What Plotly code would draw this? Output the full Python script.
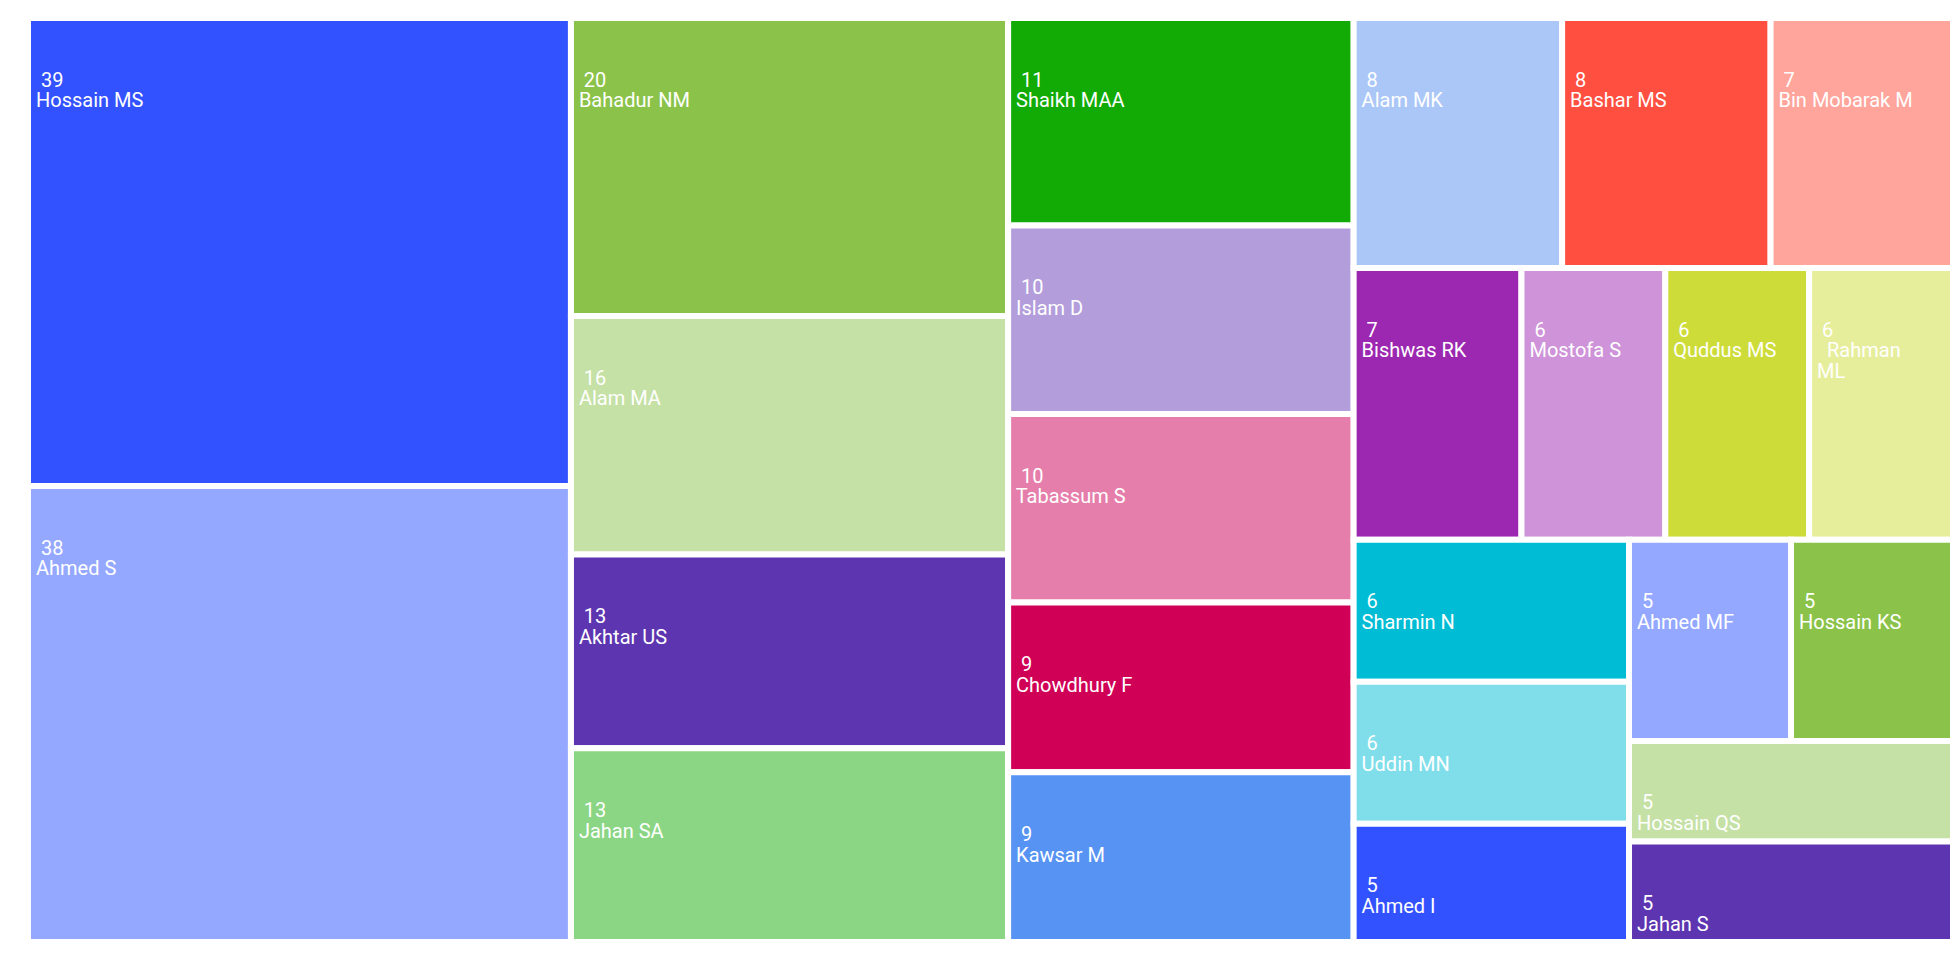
import plotly.graph_objects as go

names = ["Hossain MS", "Ahmed S", "Bahadur NM", "Alam MA", "Akhtar US", "Jahan SA",
         "Shaikh MAA", "Islam D", "Tabassum S", "Chowdhury F", "Kawsar M",
         "Alam MK", "Bashar MS", "Bin Mobarak M", "Bishwas RK", "Mostofa S",
         "Quddus MS", "Rahman ML", "Sharmin N", "Uddin MN", "Ahmed I",
         "Ahmed MF", "Hossain KS", "Hossain QS", "Jahan S"]
counts = [39, 38, 20, 16, 13, 13, 11, 10, 10, 9, 9, 8, 8, 7, 7, 6, 6, 6, 6, 6, 5, 5, 5, 5, 5]
display = [n if n != "Rahman ML" else "  Rahman<br> ML" for n in names]

palette = ["#3251FF", "#95A8FF", "#8BC34A", "#C5E1A5", "#5E35B1", "#8BD685",
           "#12AB05", "#B39DDB", "#E57EAA", "#D00057", "#5793F3", "#AAC7F8",
           "#FF4F40", "#FFA59C", "#9C27B0", "#CE93D8", "#CDDC39", "#E6EE9C",
           "#00BCD4", "#80DEEA"]
colors = [palette[i % len(palette)] for i in range(len(names))]

big = '<span style="font-size:20px">'
template = ('<span style="font-size:26px">\u00a0</span><br>\u00a0<br>'
            + big + "  %{value}</span><br>"
            + big + " %{text}</span>")

fig = go.Figure(go.Treemap(
    labels=names,
    parents=[""] * len(names),
    values=counts,
    text=display,
    texttemplate=template,
    textposition="top left",
    textfont=dict(family="Roboto", size=16, color="white"),
    marker=dict(colors=colors, line=dict(color="white", width=6),
                pad=dict(t=0, l=0, r=0, b=0)),
    hoverinfo="label+value",
    tiling=dict(packing="squarify", squarifyratio=1.618, pad=0),
    pathbar=dict(visible=False),
))
fig.update_layout(
    width=1960, height=960,
    margin=dict(l=20, r=15, t=10, b=26),
    paper_bgcolor="white",
)
fig.write_html("out.html")
